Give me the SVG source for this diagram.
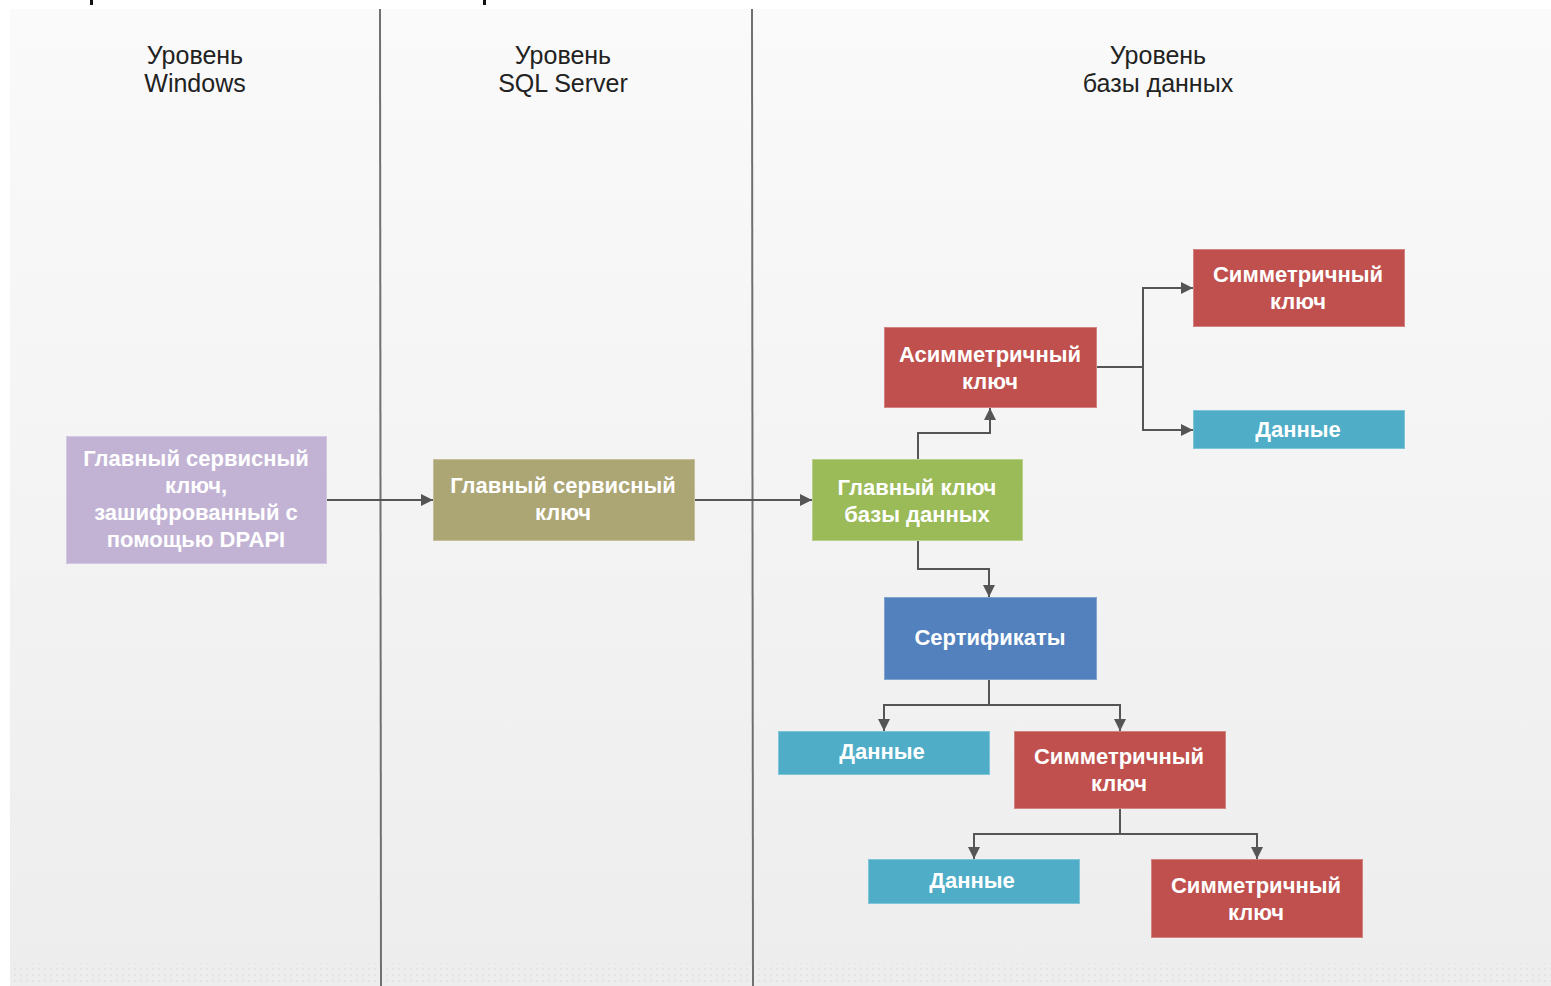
<svg xmlns="http://www.w3.org/2000/svg" width="1551" height="986" viewBox="0 0 1551 986">
<defs>
<linearGradient id="bg" x1="0" y1="0" x2="0" y2="1">
<stop offset="0" stop-color="#fafafa"/>
<stop offset="1" stop-color="#ededed"/>
</linearGradient>
<pattern id="dots" width="6" height="6" patternUnits="userSpaceOnUse">
<rect x="2" y="2" width="2" height="2" fill="#e3e3e3"/>
</pattern>
<marker id="arr" viewBox="0 0 10 10" refX="10" refY="5" markerWidth="12" markerHeight="12" markerUnits="userSpaceOnUse" orient="auto">
<path d="M0,0 L10,5 L0,10 Z" fill="#555"/>
</marker>
<style>
.hdr{font-family:"Liberation Sans",Arial,sans-serif;font-size:25px;fill:#222;text-anchor:middle}
.lbl{font-family:"Liberation Sans",Arial,sans-serif;font-size:22px;font-weight:bold;fill:#fff;text-anchor:middle}
.div{stroke:#707070;stroke-width:2;fill:none}
.con{stroke:#555;stroke-width:2;fill:none}
.arr{marker-end:url(#arr)}
.purple{fill:#c2b3d5;stroke:#d3c8e0;stroke-width:1}
.olive{fill:#aca574;stroke:#c4bf98;stroke-width:1}
.green{fill:#9bbb59;stroke:#b7d08a;stroke-width:1}
.red{fill:#c0504d;stroke:#d4827f;stroke-width:1}
.teal{fill:#4fadc7;stroke:#80c4d7;stroke-width:1}
.blue{fill:#5281be;stroke:#80a3d0;stroke-width:1}
</style>
</defs>
<rect x="0" y="0" width="1551" height="986" fill="#fff"/>
<rect x="10" y="9" width="1541" height="977" fill="url(#bg)"/>
<rect x="10" y="963" width="1541" height="23" fill="url(#dots)"/>
<rect x="90" y="0" width="3" height="5" fill="#111"/>
<rect x="483" y="0" width="3" height="5" fill="#111"/>

<g id="lanes">
<line class="div" x1="380" y1="9" x2="381" y2="986"/>
<line class="div" x1="752" y1="9" x2="753" y2="986"/>
<text class="hdr" x="195" y="64">Уровень</text>
<text class="hdr" x="195" y="92">Windows</text>
<text class="hdr" x="563" y="64">Уровень</text>
<text class="hdr" x="563" y="92">SQL Server</text>
<text class="hdr" x="1158" y="64">Уровень</text>
<text class="hdr" x="1158" y="92">базы данных</text>
</g>

<g id="connectors">
<path class="con arr" d="M327,500 H433"/>
<path class="con arr" d="M695,500 H812"/>
<path class="con arr" d="M918,460 V433 H990 V408"/>
<path class="con arr" d="M1096,367 H1143 V288 H1193"/>
<path class="con arr" d="M1143,367 V430 H1193"/>
<path class="con arr" d="M918,540 V569 H989 V597"/>
<path class="con arr" d="M989,679 V705 H884 V731"/>
<path class="con arr" d="M989,705 H1120 V731"/>
<path class="con arr" d="M1120,808 V834 H974 V859"/>
<path class="con arr" d="M1120,834 H1257 V859"/>
</g>

<g id="n-dpapi">
<rect class="purple" x="66.5" y="436.5" width="260" height="127"/>
<text class="lbl" x="196" y="466">Главный сервисный</text>
<text class="lbl" x="196" y="493">ключ,</text>
<text class="lbl" x="196" y="520">зашифрованный с</text>
<text class="lbl" x="196" y="547">помощью DPAPI</text>
</g>
<g id="n-smk">
<rect class="olive" x="433.5" y="459.5" width="261" height="81"/>
<text class="lbl" x="563" y="493">Главный сервисный</text>
<text class="lbl" x="563" y="520">ключ</text>
</g>
<g id="n-dmk">
<rect class="green" x="812.5" y="459.5" width="210" height="81"/>
<text class="lbl" x="917" y="495">Главный ключ</text>
<text class="lbl" x="917" y="522">базы данных</text>
</g>
<g id="n-asym">
<rect class="red" x="884.5" y="327.5" width="212" height="80"/>
<text class="lbl" x="990" y="362">Асимметричный</text>
<text class="lbl" x="990" y="389">ключ</text>
</g>
<g id="n-sym1">
<rect class="red" x="1193.5" y="249.5" width="211" height="77"/>
<text class="lbl" x="1298" y="282">Симметричный</text>
<text class="lbl" x="1298" y="309">ключ</text>
</g>
<g id="n-data1">
<rect class="teal" x="1193.5" y="410.5" width="211" height="38"/>
<text class="lbl" x="1298" y="437">Данные</text>
</g>
<g id="n-cert">
<rect class="blue" x="884.5" y="597.5" width="212" height="82"/>
<text class="lbl" x="990" y="645">Сертификаты</text>
</g>
<g id="n-data2">
<rect class="teal" x="778.5" y="731.5" width="211" height="43"/>
<text class="lbl" x="882" y="759">Данные</text>
</g>
<g id="n-sym2">
<rect class="red" x="1014.5" y="731.5" width="211" height="77"/>
<text class="lbl" x="1119" y="764">Симметричный</text>
<text class="lbl" x="1119" y="791">ключ</text>
</g>
<g id="n-data3">
<rect class="teal" x="868.5" y="859.5" width="211" height="44"/>
<text class="lbl" x="972" y="888">Данные</text>
</g>
<g id="n-sym3">
<rect class="red" x="1151.5" y="859.5" width="211" height="78"/>
<text class="lbl" x="1256" y="893">Симметричный</text>
<text class="lbl" x="1256" y="920">ключ</text>
</g>
</svg>
